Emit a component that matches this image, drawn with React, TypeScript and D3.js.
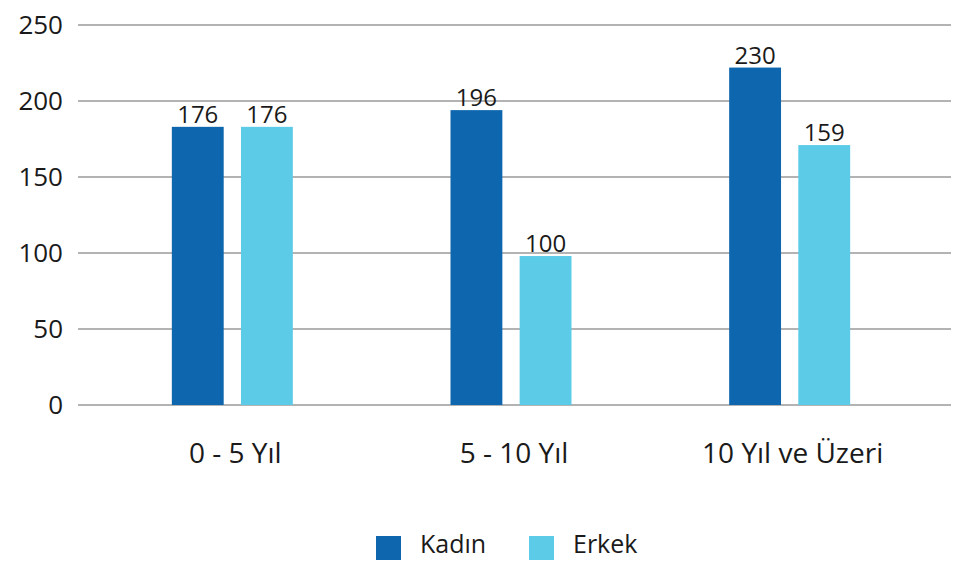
import React from "react";
import * as d3 from "d3";

const categories = ["0 - 5 Yıl", "5 - 10 Yıl", "10 Yıl ve Üzeri"];
const seriesNames = ["Kadın", "Erkek"];
const kadinValues = [183, 194, 222];
const erkekValues = [183, 98, 171];
const kadinLabels = ["176", "196", "230"];
const erkekLabels = ["176", "100", "159"];
const yTicks = [0, 50, 100, 150, 200, 250];
const colors = ["#0D66AE", "#5BCBE8"];

const W = 953;
const H = 561;
const FONT = "'Open Sans', sans-serif";

export default function App() {
  const y = d3.scaleLinear().domain([0, 250]).range([405, 25]);
  const x0 = d3.scaleBand<string>().domain(categories).range([93, 929]).padding(0);
  const x1 = d3.scaleBand<string>().domain(seriesNames).range([-60.5, 60.5]).paddingInner(0.25);
  const series = [
    { name: seriesNames[0], values: kadinValues, labels: kadinLabels, color: colors[0] },
    { name: seriesNames[1], values: erkekValues, labels: erkekLabels, color: colors[1] },
  ];
  const legendX = [376, 529];

  return (
    <svg width={W} height={H} style={{ position: "absolute", left: 0, top: 0, background: "#fff" }}>
      {yTicks.map((t) => (
        <g key={t}>
          <line x1={78} x2={951} y1={y(t)} y2={y(t)} stroke="#9a9a9a" strokeWidth={1.3} />
          <text x={63} y={y(t)} dy="0.35em" textAnchor="end" fontFamily={FONT} fontSize={26} fill="#1a1a1a">
            {t}
          </text>
        </g>
      ))}
      {categories.map((c, i) => {
        const cx = (x0(c) ?? 0) + x0.bandwidth() / 2;
        return (
          <g key={c}>
            {series.map((s) => {
              const bx = cx + (x1(s.name) ?? 0);
              const v = s.values[i];
              return (
                <g key={s.name}>
                  <rect x={bx} y={y(v)} width={x1.bandwidth()} height={y(0) - y(v)} fill={s.color} />
                  <text
                    x={bx + x1.bandwidth() / 2}
                    y={y(v) - 4}
                    textAnchor="middle"
                    fontFamily={FONT}
                    fontSize={24}
                    fill="#1a1a1a"
                  >
                    {s.labels[i]}
                  </text>
                </g>
              );
            })}
            <text x={cx + 3} y={463} textAnchor="middle" fontFamily={FONT} fontSize={28} fill="#1a1a1a">
              {c}
            </text>
          </g>
        );
      })}
      {series.map((s, i) => (
        <g key={s.name}>
          <rect x={legendX[i]} y={536} width={25} height={24} fill={s.color} />
          <text x={legendX[i] + 44} y={553} fontFamily={FONT} fontSize={25} fill="#1a1a1a">
            {s.name}
          </text>
        </g>
      ))}
    </svg>
  );
}
